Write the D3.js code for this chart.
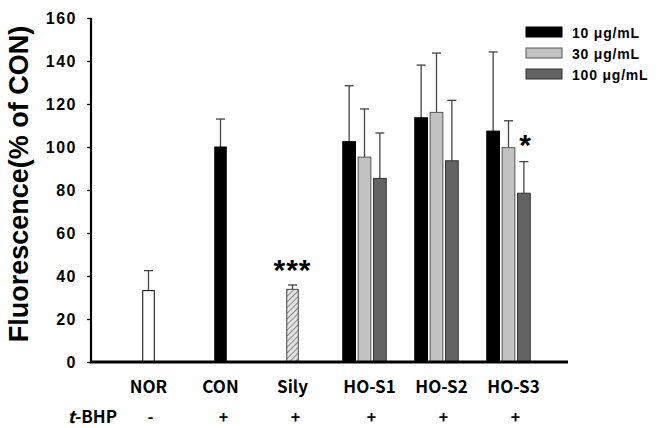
<!DOCTYPE html>
<html>
<head>
<meta charset="utf-8">
<script src="https://cdn.jsdelivr.net/npm/d3@7"></script>
<style>
  body { margin: 0; background: #fff; }
  svg { display: block; }
</style>
</head>
<body>
<svg id="chart" width="669" height="428"></svg>
<script>
// categories and values
const categories = ["NOR", "CON", "Sily", "HO-S1", "HO-S2", "HO-S3"];
const tbhp = ["-", "+", "+", "+", "+", "+"];
const singleValues = [33.2, 100, 33.8];
const singleErrors = [9.3, 13, 2.0];
const series = ["10 μg/mL", "30 μg/mL", "100 μg/mL"];
const s10 = [102.5, 113.6, 107.4];
const s30 = [95.3, 116.1, 99.7];
const s100 = [85.4, 93.6, 78.5];
const e10 = [26.0, 24.5, 36.8];
const e30 = [22.4, 27.6, 12.5];
const e100 = [21.1, 28.1, 14.7];
const yTicks = [0, 20, 40, 60, 80, 100, 120, 140, 160];

const svg = d3.select("#chart");
const x0 = 91, yBottom = 362, yTop = 18;

const y = d3.scaleLinear().domain([0, 160]).range([yBottom, yTop]);
const x = d3.scaleBand().domain(categories).range([112.5, 544.5]);
const xs = d3.scaleBand().domain(series).range([-21.75, 21.75]).paddingInner(0.17);

// hatch pattern for Sily
const defs = svg.append("defs");
const pat = defs.append("pattern")
  .attr("id", "hatch")
  .attr("patternUnits", "userSpaceOnUse")
  .attr("width", 4).attr("height", 4)
  .attr("patternTransform", "rotate(45)");
pat.append("rect").attr("width", 4).attr("height", 4).attr("fill", "#e4e4e4");
pat.append("line").attr("x1", 0).attr("y1", 0).attr("x2", 0).attr("y2", 4)
  .attr("stroke", "#555").attr("stroke-width", 1.3);

const fills = {"10 μg/mL": "#000", "30 μg/mL": "#c2c2c2", "100 μg/mL": "#636363"};
const strokes = {"10 μg/mL": "#000", "30 μg/mL": "#555", "100 μg/mL": "#333"};

// error bars (drawn first so the bars sit on top)
function errBar(cx, v, e) {
  svg.append("line").attr("x1", cx).attr("x2", cx)
    .attr("y1", y(v)).attr("y2", y(v + e))
    .attr("stroke", "#444").attr("stroke-width", 1.3);
  svg.append("line").attr("x1", cx - 4.5).attr("x2", cx + 4.5)
    .attr("y1", y(v + e)).attr("y2", y(v + e))
    .attr("stroke", "#444").attr("stroke-width", 1.3);
}

// single bars: NOR, CON, Sily
const singleFill = ["#fff", "#000", "url(#hatch)"];
const singleStroke = ["#000", "#000", "#444"];
const bw = 11.5;
singleValues.forEach((v, i) => {
  const cx = x(categories[i]) + x.bandwidth() / 2;
  errBar(cx, v, singleErrors[i]);
  svg.append("rect")
    .attr("x", cx - bw / 2).attr("y", y(v))
    .attr("width", bw).attr("height", y(0) - y(v))
    .attr("fill", singleFill[i]).attr("stroke", singleStroke[i]).attr("stroke-width", 1);
});

// grouped bars
const groupVals = [s10, s30, s100];
const groupErrs = [e10, e30, e100];
categories.slice(3).forEach((c, gi) => {
  const gc = x(c) + x.bandwidth() / 2;
  series.forEach((s, si) => {
    const v = groupVals[si][gi];
    const bx = gc + xs(s);
    const cx = bx + xs.bandwidth() / 2;
    errBar(cx, v, groupErrs[si][gi]);
    svg.append("rect")
      .attr("x", bx).attr("y", y(v))
      .attr("width", xs.bandwidth()).attr("height", y(0) - y(v))
      .attr("fill", fills[s]).attr("stroke", strokes[s]).attr("stroke-width", 1);
  });
});

// y axis
const yAxis = svg.append("g")
  .attr("transform", "translate(" + x0 + ",0)")
  .call(d3.axisLeft(y).tickValues(yTicks).tickSize(4).tickPadding(10));
yAxis.select(".domain").attr("stroke", "#000").attr("stroke-width", 2.2)
  .attr("d", "M0," + yTop + "V" + yBottom);
yAxis.selectAll(".tick line").attr("stroke", "#000").attr("stroke-width", 1.3);
yAxis.selectAll(".tick text")
  .attr("font-family", "Liberation Sans, Arial, sans-serif")
  .attr("font-weight", "bold").attr("font-size", 16)
  .attr("letter-spacing", 1.5).attr("fill", "#000");

// x axis line
svg.append("line").attr("x1", x0 - 1).attr("x2", 568)
  .attr("y1", yBottom).attr("y2", yBottom)
  .attr("stroke", "#000").attr("stroke-width", 3);

// category labels
svg.selectAll(".cat").data(categories).enter().append("text")
  .attr("x", d => x(d) + x.bandwidth() / 2 + (d.startsWith("HO") ? 5 : 0))
  .attr("y", 393)
  .attr("text-anchor", "middle")
  .attr("font-family", "Noto Sans CJK KR, sans-serif")
  .attr("font-weight", "bold").attr("font-size", 17)
  .text(d => d);

// t-BHP row
const tRow = svg.append("text").attr("x", 117).attr("y", 423)
  .attr("text-anchor", "end")
  .attr("font-family", "Noto Sans CJK KR, sans-serif")
  .attr("font-weight", "bold").attr("font-size", 17);
tRow.append("tspan").attr("font-style", "italic").text("t");
tRow.append("tspan").text("-BHP");
svg.selectAll(".sign").data(categories).enter().append("text")
  .attr("x", (d, i) => x(d) + x.bandwidth() / 2 + (i === 0 ? 2 : (d.startsWith("HO") ? 7 : 3)))
  .attr("y", 423)
  .attr("text-anchor", "middle")
  .attr("font-family", "Noto Sans CJK KR, sans-serif")
  .attr("font-weight", "bold").attr("font-size", 16)
  .text((d, i) => tbhp[i]);

// y title
svg.append("text")
  .attr("transform", "translate(28," + 184 + ") rotate(-90)")
  .attr("text-anchor", "middle")
  .attr("font-family", "Liberation Sans, Arial, sans-serif")
  .attr("font-weight", "bold").attr("font-size", 27)
  .text("Fluorescence(% of CON)");

// significance marks
svg.append("text")
  .attr("x", x("Sily") + x.bandwidth() / 2).attr("y", 280)
  .attr("text-anchor", "middle")
  .attr("font-family", "Liberation Sans, Arial, sans-serif")
  .attr("font-weight", "bold").attr("font-size", 30)
  .attr("letter-spacing", 1)
  .text("***");
svg.append("text")
  .attr("x", 525).attr("y", 155)
  .attr("text-anchor", "middle")
  .attr("font-family", "Liberation Sans, Arial, sans-serif")
  .attr("font-weight", "bold").attr("font-size", 30)
  .text("*");

// legend
const legend = svg.append("g").attr("transform", "translate(526,27)");
series.forEach((s, i) => {
  const g = legend.append("g").attr("transform", "translate(0," + (i * 21) + ")");
  g.append("rect").attr("width", 36).attr("height", 10)
    .attr("fill", fills[s]).attr("stroke", strokes[s]).attr("stroke-width", 1);
  g.append("text").attr("x", 46).attr("y", 10.5)
    .attr("font-family", "Liberation Sans, Arial, sans-serif")
    .attr("font-weight", "bold").attr("font-size", 14)
    .attr("letter-spacing", 0.8)
    .text(s);
});
</script>
</body>
</html>
